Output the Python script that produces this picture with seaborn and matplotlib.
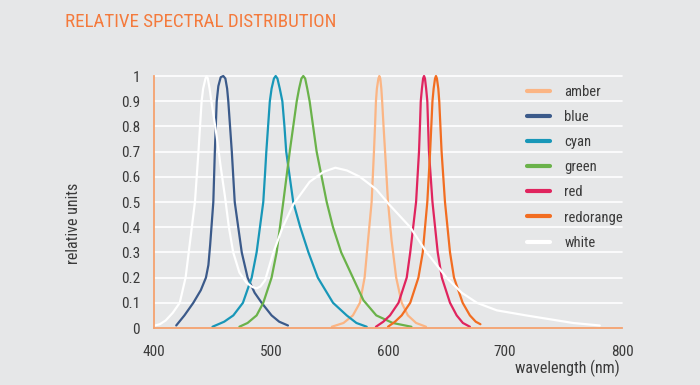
import pandas as pd
import seaborn as sns
import matplotlib.pyplot as plt
import matplotlib.font_manager as fm

# Werte (Wellenlaenge in nm, relative Einheiten)
amber_nm = [552, 562, 570, 576, 580, 583, 586, 588, 588.9, 589.7, 590.5, 591.8, 592.6, 593.4, 594.3, 595, 596.2, 597.5, 600, 603, 607, 611.7, 617, 624, 632.5]
amber_val = [0.005, 0.02, 0.05, 0.1, 0.2, 0.35, 0.5, 0.7, 0.8, 0.9, 0.95, 0.99, 1.0, 0.99, 0.95, 0.9, 0.8, 0.7, 0.5, 0.35, 0.2, 0.1, 0.05, 0.02, 0.005]

blue_nm = [419, 426, 433.6, 440, 444.4, 446.5, 448, 450.7, 452, 453.6, 455, 457, 459.2, 461, 462.5, 463.5, 465, 466.5, 469, 475, 480, 486, 492, 500.5, 507, 514.5]
blue_val = [0.01, 0.05, 0.1, 0.15, 0.2, 0.25, 0.33, 0.5, 0.7, 0.9, 0.96, 0.995, 1.0, 0.99, 0.95, 0.9, 0.8, 0.7, 0.5, 0.3, 0.2, 0.14, 0.1, 0.05, 0.025, 0.01]

cyan_nm = [450, 460, 467.8, 476, 483.5, 487.7, 493.4, 495, 496, 497.5, 499, 500.5, 502.5, 504, 505.5, 507.5, 509.7, 511.5, 513, 519, 525, 532, 540, 553, 564.7, 573, 581.8]
cyan_val = [0.005, 0.025, 0.05, 0.1, 0.2, 0.3, 0.5, 0.62, 0.7, 0.8, 0.9, 0.95, 0.99, 1.0, 0.99, 0.95, 0.9, 0.8, 0.7, 0.5, 0.4, 0.3, 0.2, 0.1, 0.05, 0.02, 0.005]

green_nm = [473, 480, 487.7, 493.4, 500.5, 504.8, 510.5, 516, 519, 522, 524, 526, 527.6, 529.2, 531, 533, 536, 539, 547.6, 553, 560, 570, 579, 590, 604, 620]
green_val = [0.005, 0.02, 0.05, 0.1, 0.2, 0.3, 0.5, 0.7, 0.8, 0.9, 0.95, 0.99, 1.0, 0.99, 0.95, 0.9, 0.8, 0.7, 0.5, 0.4, 0.3, 0.2, 0.11, 0.05, 0.02, 0.005]

red_nm = [589.7, 596, 601.7, 609, 616, 619, 624, 626.5, 627.3, 628, 629, 630, 630.8, 631.6, 632.6, 633.6, 634.3, 635, 638, 642.5, 646, 653, 658.7, 664, 670]
red_val = [0.005, 0.025, 0.05, 0.1, 0.2, 0.3, 0.5, 0.7, 0.8, 0.9, 0.95, 0.99, 1.0, 0.99, 0.95, 0.9, 0.8, 0.7, 0.5, 0.3, 0.2, 0.1, 0.05, 0.02, 0.005]

redorange_nm = [600, 606, 611.7, 619, 626, 629.7, 633.6, 636, 637, 638, 639, 640.2, 641, 641.8, 643, 643.8, 644.8, 645.8, 648.7, 653, 656.4, 663.8, 670, 675, 679]
redorange_val = [0.005, 0.025, 0.05, 0.1, 0.2, 0.3, 0.5, 0.7, 0.8, 0.9, 0.95, 0.99, 1.0, 0.99, 0.95, 0.9, 0.8, 0.7, 0.5, 0.3, 0.2, 0.1, 0.05, 0.025, 0.015]

white_nm = [401, 405, 410, 416, 422, 427, 431, 435, 438, 440.7, 442, 444, 445, 446, 447.5, 449, 451, 453.6, 457, 460.7, 464, 467.7, 473, 479,
            484, 487.7, 491, 495, 502, 510, 519, 533, 545, 555, 565, 576, 590, 601, 619, 633, 650, 663, 676, 693, 718, 758, 781]
white_val = [0.01, 0.015, 0.03, 0.06, 0.1, 0.2, 0.35, 0.5, 0.7, 0.9, 0.95, 0.99, 1.0, 0.99, 0.95, 0.9, 0.84, 0.76, 0.64, 0.52, 0.4, 0.3, 0.22, 0.18,
             0.163, 0.157, 0.165, 0.19, 0.3, 0.4, 0.49, 0.58, 0.62, 0.636, 0.625, 0.6, 0.55, 0.49, 0.4, 0.3, 0.2, 0.14, 0.1, 0.07, 0.05, 0.02, 0.01]

serien = {
    'amber': (amber_nm, amber_val),
    'blue': (blue_nm, blue_val),
    'cyan': (cyan_nm, cyan_val),
    'green': (green_nm, green_val),
    'red': (red_nm, red_val),
    'redorange': (redorange_nm, redorange_val),
    'white': (white_nm, white_val),
}
farben = {
    'amber': '#fbb584',
    'blue': '#3b5a8a',
    'cyan': '#1897b8',
    'green': '#6ab24a',
    'red': '#e0245e',
    'redorange': '#f26d21',
    'white': '#ffffff',
}

df = pd.concat([pd.DataFrame({'wavelength': x, 'value': y, 'led': name})
                for name, (x, y) in serien.items()], ignore_index=True)

hintergrund = '#e6e7e8'
achse = '#f5a26f'
text_farbe = '#3a3a3a'

sns.set_theme(style='white')
namen = {f.name for f in fm.fontManager.ttflist}
schrift = next((n for n in ['Roboto Condensed', 'Liberation Sans Narrow', 'Roboto', 'Liberation Sans'] if n in namen), 'DejaVu Sans')
plt.rcParams['font.family'] = [schrift, 'DejaVu Sans']

fig = plt.figure(figsize=(7, 3.85), dpi=100, facecolor=hintergrund)
ax = fig.add_axes([154 / 700, 1 - 328 / 385, 468 / 700, 252 / 385])
ax.set_facecolor(hintergrund)

# Gitterlinien weiss
for yv in [i / 10 for i in range(1, 11)]:
    ax.axhline(yv, color='white', lw=1.2, zorder=0)

sns.lineplot(data=df, x='wavelength', y='value', hue='led', palette=farben,
             sort=False, estimator=None, lw=1.6, ax=ax)
for ln in ax.lines:
    ln.set_clip_on(False)

ax.set_xlim(400, 800)
ax.set_ylim(0, 1)
ax.set_xticks([400, 500, 600, 700, 800])
ax.set_yticks([i / 10 for i in range(11)])
ax.set_yticklabels(['0'] + [f'{i / 10:g}' for i in range(1, 10)] + ['1'])

for s in ['top', 'right']:
    ax.spines[s].set_visible(False)
for s in ['left', 'bottom']:
    ax.spines[s].set_color(achse)
    ax.spines[s].set_linewidth(1.3)
ax.tick_params(axis='both', colors=achse, length=4, width=1.2, labelcolor=text_farbe, labelsize=11)
ax.tick_params(axis='y', pad=6)
ax.tick_params(axis='x', pad=8)

ax.set_xlabel('')
ax.set_ylabel('')
fig.text(620 / 700, 1 - 368 / 385, 'wavelength (nm)', ha='right', va='center', fontsize=11.5, color=text_farbe)
fig.text(74 / 700, 1 - 223 / 385, 'relative units', rotation=90, ha='center', va='center', fontsize=11.5, color=text_farbe)
fig.text(65 / 700, 1 - 22 / 385, 'RELATIVE SPECTRAL DISTRIBUTION', ha='left', va='center', fontsize=13.7, color='#f47a3c')

leg = ax.legend(loc='upper left', bbox_to_anchor=(514 / 700, 1 - 72 / 385), bbox_transform=fig.transFigure,
                frameon=False, fontsize=10.5, handlelength=1.55, handletextpad=1.0, labelspacing=0.76)
for h in leg.get_lines():
    h.set_linewidth(3)
for t in leg.get_texts():
    t.set_color(text_farbe)

fig.savefig('out.png', dpi=100, facecolor=hintergrund)
